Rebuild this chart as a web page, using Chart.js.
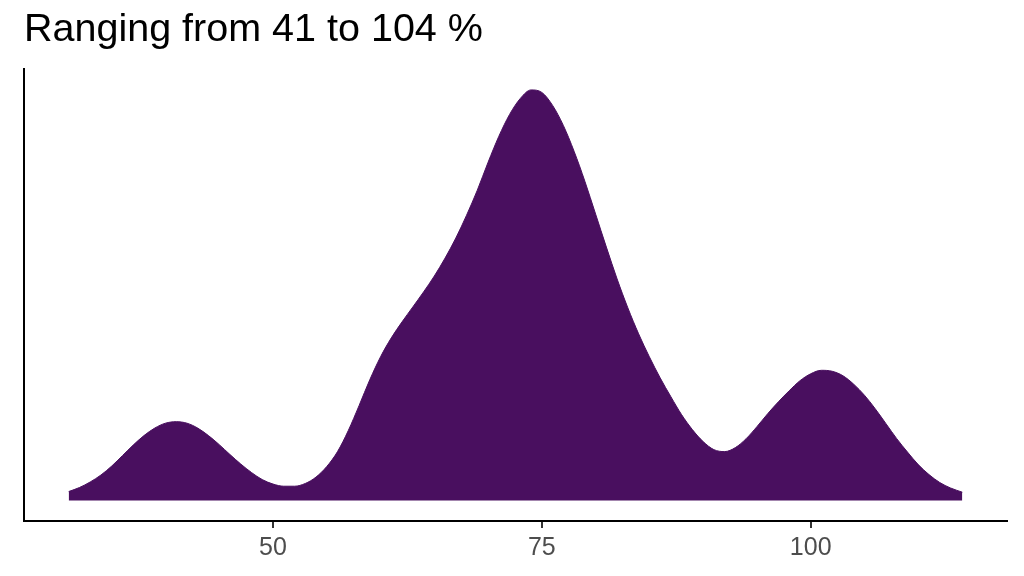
<!DOCTYPE html>
<html>
<head>
<meta charset="utf-8">
<script src="https://cdn.jsdelivr.net/npm/chart.js@4.4.1/dist/chart.umd.min.js"></script>
<style>
  html, body { margin: 0; padding: 0; background: #fff; }
  #wrap { width: 1024px; height: 576px; }
</style>
</head>
<body>
<div id="wrap"><canvas id="density"></canvas></div>
<script>
// density of values (one point per unit)
const xValues = [31, 32, 33, 34, 35, 36, 37, 38, 39, 40, 41, 42, 43, 44, 45, 46, 47, 48, 49, 50,
  51, 52, 53, 54, 55, 56, 57, 58, 59, 60, 61, 62, 63, 64, 65, 66, 67, 68, 69, 70,
  71, 72, 73, 74, 75, 76, 77, 78, 79, 80, 81, 82, 83, 84, 85, 86, 87, 88, 89, 90,
  91, 92, 93, 94, 95, 96, 97, 98, 99, 100, 101, 102, 103, 104, 105, 106, 107, 108, 109, 110,
  111, 112, 113, 114.1];
const densValues = [0.00082, 0.00119, 0.00170, 0.00234, 0.00316, 0.00412, 0.00509, 0.00596, 0.00665, 0.00710,
  0.00724, 0.00710, 0.00665, 0.00596, 0.00513, 0.00422, 0.00335, 0.00257, 0.00192, 0.00151,
  0.00131, 0.00131, 0.00156, 0.00215, 0.00312, 0.00449, 0.00642, 0.00871, 0.01109, 0.01320,
  0.01494, 0.01641, 0.01778, 0.01916, 0.02062, 0.02227, 0.02411, 0.02621, 0.02851, 0.03107,
  0.03346, 0.03547, 0.03694, 0.03772, 0.03749, 0.03630, 0.03446, 0.03208, 0.02933, 0.02631,
  0.02328, 0.02035, 0.01769, 0.01531, 0.01320, 0.01127, 0.00953, 0.00788, 0.00651, 0.00541,
  0.00467, 0.00449, 0.00486, 0.00568, 0.00678, 0.00797, 0.00907, 0.01008, 0.01100, 0.01164,
  0.01196, 0.01187, 0.01146, 0.01068, 0.00967, 0.00843, 0.00706, 0.00568, 0.00445, 0.00330,
  0.00238, 0.00165, 0.00115, 0.00076];
const xTicks = [50, 75, 100];
const titleText = 'Ranging from 41 to 104 %';

// ggplot-like 5% expansion on both axes
const xLo = Math.min(...xValues), xHi = Math.max(...xValues);
const xPad = (xHi - xLo) * 0.05;
const yHi = Math.max(...densValues);
const yPad = yHi * 0.05;

const points = xValues.map((x, i) => ({ x: x, y: densValues[i] }));

new Chart(document.getElementById('density'), {
  type: 'line',
  data: {
    datasets: [{
      data: points,
      borderColor: '#490F5F',
      backgroundColor: '#490F5F',
      borderWidth: 1,
      pointRadius: 0,
      fill: 'origin',
      cubicInterpolationMode: 'monotone'
    }]
  },
  options: {
    responsive: true,
    maintainAspectRatio: false,
    animation: false,
    layout: { padding: { left: 24, right: 17, top: 0, bottom: 8 } },
    plugins: {
      legend: { display: false },
      tooltip: { enabled: false },
      title: {
        display: true,
        text: titleText,
        align: 'start',
        color: '#000',
        font: { family: 'Liberation Sans, Arial, sans-serif', size: 39.5, weight: 'normal' },
        padding: { top: 6, bottom: 16 }
      }
    },
    scales: {
      x: {
        type: 'linear',
        min: xLo - xPad,
        max: xHi + xPad,
        afterBuildTicks: s => { s.ticks = xTicks.map(v => ({ value: v })); },
        grid: { drawOnChartArea: false, drawTicks: true, tickLength: 7, color: '#333', lineWidth: 2 },
        border: { display: true, color: '#000', width: 2 },
        ticks: {
          color: '#4D4D4D',
          padding: 5,
          maxRotation: 0,
          font: { family: 'Liberation Sans, Arial, sans-serif', size: 25 }
        }
      },
      y: {
        min: -yPad,
        max: yHi + yPad,
        grid: { display: false, drawTicks: false },
        border: { display: true, color: '#000', width: 2 },
        ticks: { display: false }
      }
    }
  }
});
</script>
</body>
</html>
